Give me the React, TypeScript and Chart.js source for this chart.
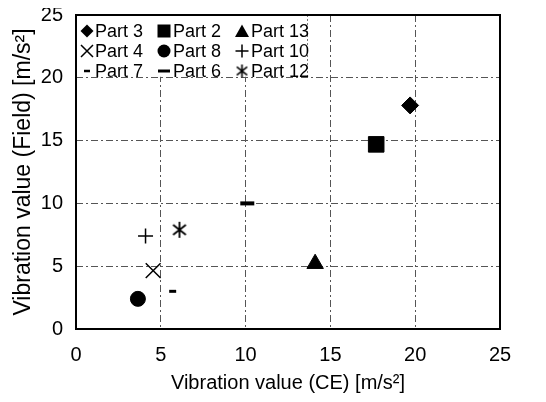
import React, { useEffect, useRef } from 'react';
import { Chart, registerables } from 'chart.js';

Chart.register(...registerables);

const partNames = ['Part 3', 'Part 2', 'Part 13', 'Part 4', 'Part 8', 'Part 10', 'Part 7', 'Part 6', 'Part 12'];
const ceValues = [19.7, 17.7, 14.1, 4.55, 3.65, 4.1, 5.7, 10.1, 6.1];
const fieldValues = [17.8, 14.7, 5.2, 4.65, 2.4, 7.4, 3.0, 10.0, 7.9];
const xTickValues = [0, 5, 10, 15, 20, 25];
const yTickValues = [0, 5, 10, 15, 20, 25];
const xTitle = 'Vibration value (CE) [m/s²]';
const yTitle = 'Vibration value (Field) [m/s²]';

const FONT = '"Liberation Sans", Arial, Helvetica, sans-serif';

function makeAsterisk(size: number, lw: number): HTMLCanvasElement {
  const c = document.createElement('canvas');
  c.width = size;
  c.height = size;
  const ctx = c.getContext('2d')!;
  const m = size / 2;
  const r = size / 2 - 1;
  ctx.strokeStyle = '#000';
  ctx.lineWidth = lw;
  ctx.beginPath();
  ctx.moveTo(m, m - r);
  ctx.lineTo(m, m + r);
  const dx = r * 0.8;
  const dy = r * 0.62;
  ctx.moveTo(m - dx, m - dy);
  ctx.lineTo(m + dx, m + dy);
  ctx.moveTo(m + dx, m - dy);
  ctx.lineTo(m - dx, m + dy);
  ctx.stroke();
  return c;
}

type Marker = { style: any; radius: number; width: number };

function markerFor(name: string, asterisk: HTMLCanvasElement): Marker {
  switch (name) {
    case 'Part 3': return { style: 'rectRot', radius: 8.5, width: 1 };
    case 'Part 2': return { style: 'rect', radius: 11, width: 1 };
    case 'Part 13': return { style: 'triangle', radius: 9.5, width: 1 };
    case 'Part 4': return { style: 'crossRot', radius: 10.5, width: 1.5 };
    case 'Part 8': return { style: 'circle', radius: 7.5, width: 1 };
    case 'Part 10': return { style: 'cross', radius: 7.5, width: 1.5 };
    case 'Part 7': return { style: 'line', radius: 3.5, width: 3 };
    case 'Part 6': return { style: 'line', radius: 7, width: 4 };
    default: return { style: asterisk, radius: 9, width: 1 };
  }
}

function drawLegendMarker(ctx: CanvasRenderingContext2D, name: string, x: number, y: number, ast: HTMLCanvasElement) {
  ctx.save();
  ctx.fillStyle = '#000';
  ctx.strokeStyle = '#000';
  ctx.lineWidth = 1.5;
  ctx.beginPath();
  switch (name) {
    case 'Part 3':
      ctx.moveTo(x, y - 6.5); ctx.lineTo(x + 6.5, y); ctx.lineTo(x, y + 6.5); ctx.lineTo(x - 6.5, y); ctx.closePath(); ctx.fill();
      break;
    case 'Part 2':
      ctx.rect(x - 6.5, y - 6.5, 13, 13); ctx.fill();
      break;
    case 'Part 13':
      ctx.moveTo(x, y - 6.5); ctx.lineTo(x + 7, y + 6); ctx.lineTo(x - 7, y + 6); ctx.closePath(); ctx.fill();
      break;
    case 'Part 4':
      ctx.moveTo(x - 6, y - 6); ctx.lineTo(x + 6, y + 6); ctx.moveTo(x + 6, y - 6); ctx.lineTo(x - 6, y + 6); ctx.stroke();
      break;
    case 'Part 8':
      ctx.arc(x, y, 6.5, 0, Math.PI * 2); ctx.fill();
      break;
    case 'Part 10':
      ctx.moveTo(x - 6.5, y); ctx.lineTo(x + 6.5, y); ctx.moveTo(x, y - 6.5); ctx.lineTo(x, y + 6.5); ctx.stroke();
      break;
    case 'Part 7':
      ctx.lineWidth = 2.5; ctx.moveTo(x - 3, y); ctx.lineTo(x + 3, y); ctx.stroke();
      break;
    case 'Part 6':
      ctx.lineWidth = 3; ctx.moveTo(x - 6, y); ctx.lineTo(x + 6, y); ctx.stroke();
      break;
    default:
      ctx.drawImage(ast, x - ast.width / 2, y - ast.height / 2);
  }
  ctx.restore();
}

export default function App() {
  const ref = useRef<HTMLCanvasElement | null>(null);

  useEffect(() => {
    if (!ref.current) return;
    const asterisk = makeAsterisk(18, 1.8);
    const legendAst = makeAsterisk(15, 1.6);

    const datasets = partNames.map((name, i) => {
      const m = markerFor(name, asterisk);
      return {
        label: name,
        data: [{ x: ceValues[i], y: fieldValues[i] }],
        pointStyle: m.style,
        pointRadius: m.radius,
        pointHoverRadius: m.radius,
        borderWidth: m.width,
        backgroundColor: '#000',
        borderColor: '#000',
        showLine: false,
      };
    });

    const framePlugin = {
      id: 'frame',
      beforeDatasetsDraw(chart: any) {
        const { ctx, chartArea } = chart;
        const ys = chart.scales.y;
        const l = chartArea.left;
        const t = chartArea.top;
        const right = l + 231;
        const bottom = ys.getPixelForValue(20) - 1;
        ctx.save();
        ctx.fillStyle = '#fff';
        ctx.fillRect(l + 1, t + 1, right - l - 1, bottom - t - 1);
        ctx.strokeStyle = '#777';
        ctx.lineWidth = 1;
        ctx.setLineDash([2, 2]);
        ctx.beginPath();
        ctx.moveTo(right + 0.5, t);
        ctx.lineTo(right + 0.5, bottom + 1);
        ctx.stroke();
        ctx.setLineDash([]);
        const colMarker = [11, 88, 166];
        const colText = [19, 97, 175];
        const rows = [16, 36, 56];
        ctx.font = '18px ' + FONT;
        ctx.textBaseline = 'middle';
        ctx.textAlign = 'left';
        partNames.forEach((name, i) => {
          const r = Math.floor(i / 3);
          const c = i % 3;
          drawLegendMarker(ctx, name, l + colMarker[c], t + rows[r], legendAst);
          ctx.fillStyle = '#000';
          ctx.fillText(name, l + colText[c], t + rows[r] + 1);
        });
        ctx.restore();
      },
      afterDraw(chart: any) {
        const { ctx, chartArea } = chart;
        ctx.save();
        ctx.strokeStyle = '#000';
        ctx.lineWidth = 2;
        ctx.strokeRect(chartArea.left, chartArea.top, chartArea.right - chartArea.left, chartArea.bottom - chartArea.top);
        ctx.restore();
      },
    };

    const chart = new Chart(ref.current, {
      type: 'scatter',
      data: { datasets },
      options: {
        animation: false,
        responsive: true,
        maintainAspectRatio: false,
        layout: { padding: { top: 15, right: 46, left: 0, bottom: 0 } },
        plugins: { legend: { display: false }, tooltip: { enabled: false } },
        scales: {
          x: {
            type: 'linear',
            min: 0,
            max: 25,
            afterBuildTicks: (s: any) => { s.ticks = xTickValues.map((v) => ({ value: v })); },
            ticks: { color: '#000', font: { family: FONT, size: 20 }, padding: 14, maxRotation: 0 },
            grid: { color: '#555', lineWidth: 1, drawTicks: false },
            border: { display: false, dash: [7, 3, 2, 3] },
            title: { display: true, text: xTitle, color: '#000', font: { family: FONT, size: 20 }, padding: { top: 3, bottom: 7 } },
            afterFit: (s: any) => { s.height = 73; s.paddingLeft = 0; s.paddingRight = 0; },
          },
          y: {
            type: 'linear',
            min: 0,
            max: 25,
            afterBuildTicks: (s: any) => { s.ticks = yTickValues.map((v) => ({ value: v })); },
            ticks: { color: '#000', font: { family: FONT, size: 20, lineHeight: 0.6 }, padding: 13 },
            grid: { color: '#555', lineWidth: 1, drawTicks: false },
            border: { display: false, dash: [7, 3, 2, 3] },
            title: { display: true, text: yTitle, color: '#000', font: { family: FONT, size: 23 }, padding: { top: 10, bottom: 3 } },
            afterFit: (s: any) => { s.width = 76; s.paddingTop = 0; s.paddingBottom = 0; },
          },
        },
      },
      plugins: [framePlugin],
    } as any);
    return () => chart.destroy();
  }, []);

  return (
    <div style={{ width: 546, height: 402, margin: -8, position: 'relative' }}>
      <canvas ref={ref} />
    </div>
  );
}
